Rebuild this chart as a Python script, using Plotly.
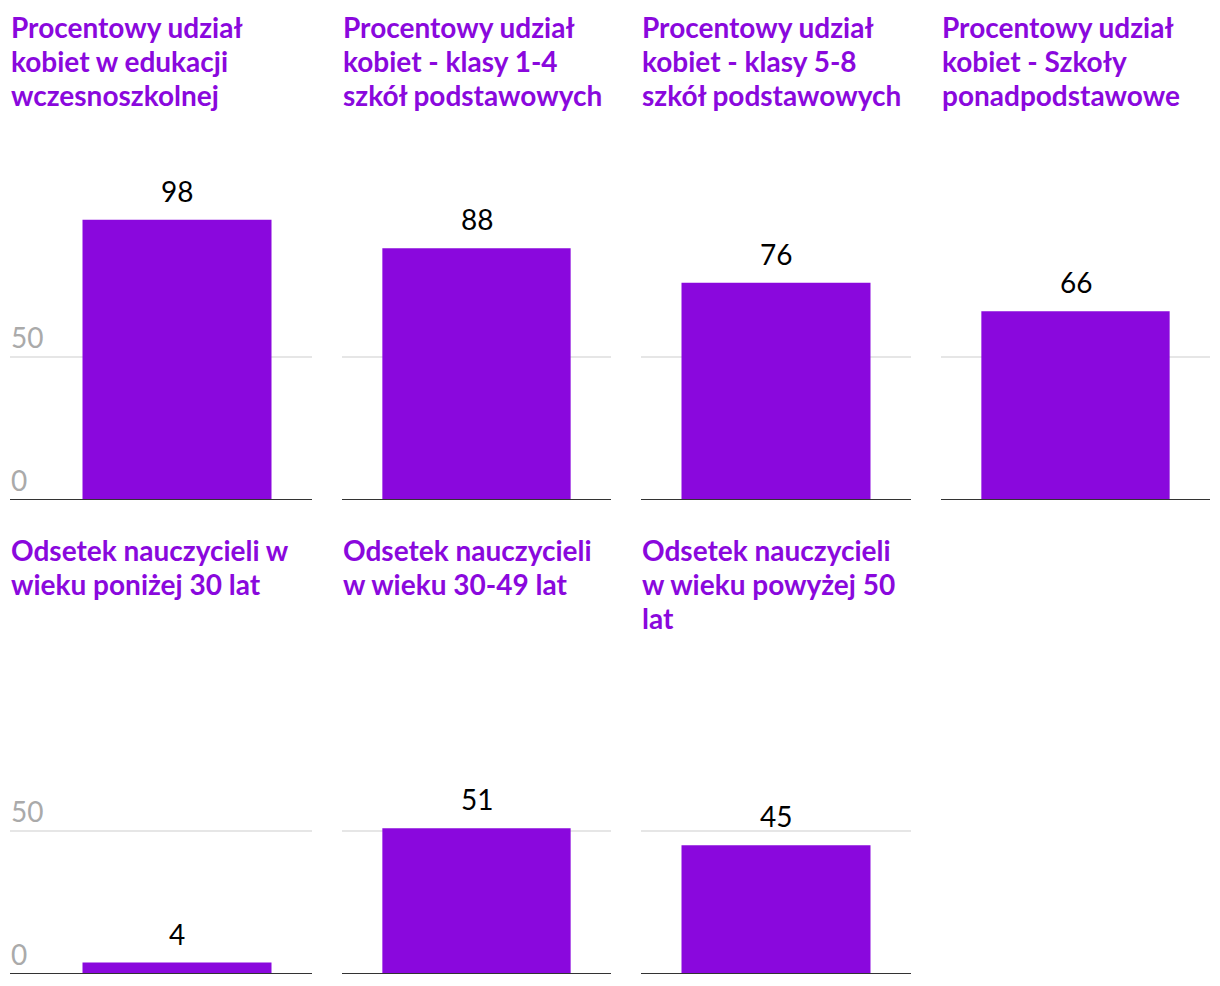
import plotly.graph_objects as go

titles = [
    ["Procentowy udział", "kobiet w edukacji", "wczesnoszkolnej"],
    ["Procentowy udział", "kobiet - klasy 1-4", "szkół podstawowych"],
    ["Procentowy udział", "kobiet - klasy 5-8", "szkół podstawowych"],
    ["Procentowy udział", "kobiet - Szkoły", "ponadpodstawowe"],
    ["Odsetek nauczycieli w", "wieku poniżej 30 lat"],
    ["Odsetek nauczycieli", "w wieku 30-49 lat"],
    ["Odsetek nauczycieli", "w wieku powyżej 50", "lat"],
]
values = [98, 88, 76, 66, 4, 51, 45]
tick_values = [0, 50]
tick_labels = ["0", "50"]

# page has an 8px body margin; work in reference (window) pixels
OFF = 8
W, H = 1220 - OFF, 986 - OFF
PURPLE = "#8a08dd"
FONT = "Lato"


def px_x(x):
    return (x - OFF) / W


def px_y(y):
    return 1 - (y - OFF) / H


col_px = [(42, 312), (342, 611), (641, 911), (941, 1210)]
title_left_px = [9, 341, 640, 940]
row_px = [(214, 500), (688, 974)]
title_cap_top = [20, 543]
LINE_STEP = 34
TSIZE = 28

fig = go.Figure()
annotations = []
shapes = []

for i, (title, val) in enumerate(zip(titles, values)):
    r, c = divmod(i, 4)
    n = i + 1
    xa = "x" if n == 1 else f"x{n}"
    ya = "y" if n == 1 else f"y{n}"
    xl = "xaxis" if n == 1 else f"xaxis{n}"
    yl = "yaxis" if n == 1 else f"yaxis{n}"
    x0, x1 = col_px[c]
    yt, yb = row_px[r]
    cat = " ".join(title)
    fig.add_trace(go.Bar(
        x=[cat], y=[val], xaxis=xa, yaxis=ya,
        marker=dict(color=PURPLE, line=dict(width=0)),
        hoverinfo="skip", showlegend=False,
    ))
    fig.layout[xl] = dict(
        domain=[px_x(x0), px_x(x1)], anchor=ya,
        showticklabels=False, showgrid=False, zeroline=False,
        showline=False, fixedrange=True,
    )
    fig.layout[yl] = dict(
        domain=[px_y(yb), px_y(yt)], anchor=xa,
        range=[0, 100], tickvals=[50], showticklabels=False,
        showgrid=True, gridcolor="#e6e6e6", gridwidth=2,
        zeroline=False, showline=False, fixedrange=True,
    )
    # value label
    annotations.append(dict(
        x=cat, y=val, xref=xa, yref=ya, text=str(val),
        showarrow=False, yanchor="bottom", xanchor="center", yshift=10,
        font=dict(family=FONT, size=TSIZE, color="#000000"),
    ))
    # title lines
    for k, line in enumerate(title):
        top = title_cap_top[r] + k * LINE_STEP - 12
        annotations.append(dict(
            x=px_x(title_left_px[c]), y=px_y(top),
            xref="paper", yref="paper", text="<b>" + line + "</b>",
            showarrow=False, xanchor="left", yanchor="top", align="left",
            font=dict(family=FONT, size=TSIZE, color=PURPLE),
        ))
    left = 10 if c == 0 else x0
    if c == 0:
        for tv, tl in zip(tick_values, tick_labels):
            annotations.append(dict(
                x=px_x(9), y=tv, xref="paper", yref=ya, text=tl,
                showarrow=False, xanchor="left", yanchor="bottom", yshift=1,
                font=dict(family=FONT, size=TSIZE, color="#aaaaaa"),
            ))
        shapes.append(dict(
            type="line", xref="paper", yref=ya, x0=px_x(10), x1=px_x(x0),
            y0=50, y1=50, line=dict(color="#e6e6e6", width=2), layer="below",
        ))
    # baseline
    shapes.append(dict(
        type="line", xref="paper", yref=ya, x0=px_x(left), x1=px_x(x1),
        y0=0, y1=0, line=dict(color="#333333", width=2), layer="above",
    ))

fig.update_layout(
    width=W, height=H,
    margin=dict(l=0, r=0, t=0, b=0),
    paper_bgcolor="white", plot_bgcolor="white",
    bargap=0.3,
    annotations=annotations, shapes=shapes,
    font=dict(family=FONT),
)

fig.write_html("out.html", config={"displayModeBar": False})
